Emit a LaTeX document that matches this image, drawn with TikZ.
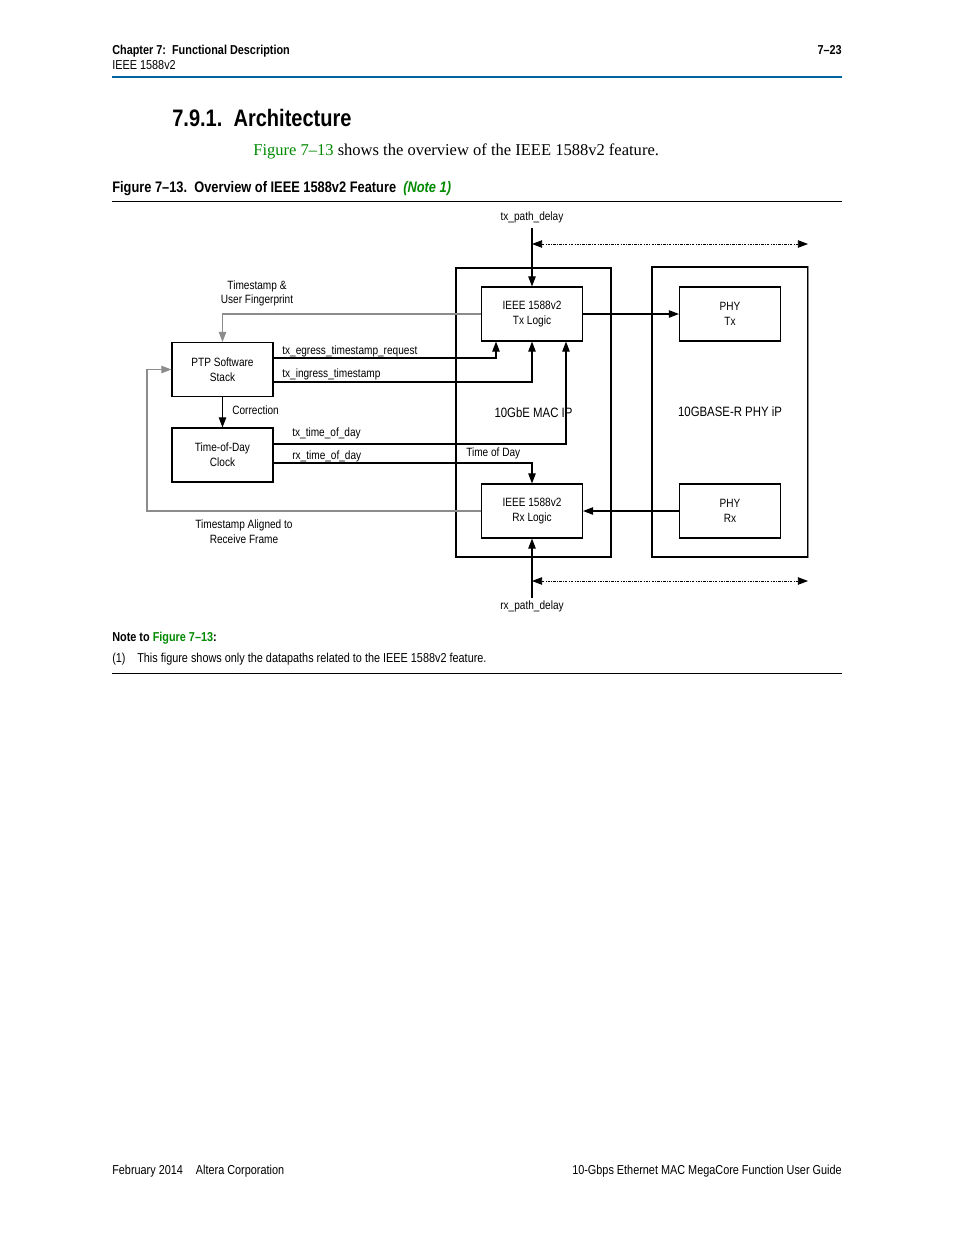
\documentclass[tikz,border=0pt]{standalone}
\usepackage{fontspec}
\setmainfont{Liberation Sans}[FakeStretch=0.84]
\newfontfamily\bodyserif{Liberation Serif}
\usetikzlibrary{arrows.meta,calc}
\definecolor{altblue}{HTML}{0066A1}
\definecolor{altgreen}{HTML}{008A00}
\definecolor{linegray}{gray}{0.55}
\newcommand{\lblfont}{\fontsize{7.7}{9.4}\selectfont}
\newcommand{\smallpage}{\fontsize{8.3}{10}\selectfont}

\tikzset{
  logicbox/.style={draw, line width=0.7pt, minimum width=101*0.6415pt,
    minimum height=54*0.6415pt, align=center, font=\lblfont, inner sep=0pt},
  ipbox/.style={draw, line width=0.7pt, minimum width=155*0.6415pt,
    minimum height=289*0.6415pt, align=center, font=\fontsize{8.7}{10}\selectfont, inner sep=0pt},
  lbl/.style={font=\lblfont, inner sep=0pt, align=center},
  pagetext/.style={inner sep=0pt, anchor=base west},
  arr/.style={line width=0.7pt, -{Triangle[length=6.5pt,width=4.8pt]}},
  grayarr/.style={arr, draw=linegray},
  dotarr/.style={line width=0.55pt, {Triangle[length=6.5pt,width=4.8pt]}-{Triangle[length=6.5pt,width=4.8pt]},
    dash pattern=on 1.6pt off 0.8pt on 0.5pt off 0.8pt},
}

\begin{document}
\begin{tikzpicture}[x=0.6415pt, y=-0.6415pt]
  \useasboundingbox[fill=white] (0,0) rectangle (954,1235);

  %% page header
  \node[pagetext, font=\bfseries\smallpage] (chap) at (112,54) {Chapter 7:\ \ Functional Description};
  \node[pagetext, font=\smallpage] (sect) at (112,69) {IEEE 1588v2};
  \node[inner sep=0pt, anchor=base east, font=\bfseries\smallpage] (pgno) at (842,54) {7–23};
  \draw[altblue, line width=1.6pt] (112,77) -- (842,77);

  \node[pagetext, font=\bfseries\fontsize{15.3}{18}\selectfont] (title) at (172,126) {7.9.1.\ \ Architecture};
  \node[pagetext, font=\bodyserif\fontsize{10.6}{12}\selectfont] (intro) at (253,155)
    {\textcolor{altgreen}{Figure 7–13} shows the overview of the IEEE 1588v2 feature.};

  \node[pagetext, font=\bfseries\fontsize{9.8}{11}\selectfont] (figcap) at (112,192)
    {Figure 7–13.\ \ Overview of IEEE 1588v2 Feature\ \ \textcolor{altgreen}{\itshape (Note 1)}};
  \draw[line width=0.6pt] (112,201) -- (842,201);

  %% IP blocks
  \node[ipbox] (mac) at (533.5,412.5) {10GbE MAC IP};
  \node[ipbox, minimum width=156*0.6415pt, minimum height=290*0.6415pt] (phy) at (730,412) {10GBASE-R PHY iP};
  \draw[linegray, line width=0.7pt] (phy.north east) -- (phy.south east);

  %% logic blocks
  \node[logicbox] (txl) at (532,314) {IEEE 1588v2\\Tx Logic};
  \node[logicbox] (rxl) at (532,511) {IEEE 1588v2\\Rx Logic};
  \node[logicbox] (phytx) at (730,314) {PHY\\Tx};
  \node[logicbox] (phyrx) at (730,511) {PHY\\Rx};
  \node[logicbox] (ptp) at (222.5,369.5) {PTP Software\\Stack};
  \node[logicbox] (tod) at (222.5,455) {Time-of-Day\\Clock};

  %% path delays
  \coordinate (txd) at (532,228);
  \coordinate (rxd) at (532,598);
  \coordinate (txdl) at (532,244);
  \coordinate (txdr) at (808,244);
  \coordinate (rxdl) at (532,581);
  \coordinate (rxdr) at (808,581);
  \draw[arr] (txd) -- (txl.north);
  \draw[arr] (rxd) -- (rxl.south);
  \draw[dotarr] (txdl) -- (txdr);
  \draw[dotarr] (rxdl) -- (rxdr);
  \node[lbl] (txdlbl) at (532,217) {tx\_path\_delay};
  \node[lbl] (rxdlbl) at (532,606) {rx\_path\_delay};

  %% data paths
  \draw[arr] (txl.east) -- (phytx.west);
  \draw[arr] (phyrx.west) -- (rxl.east);
  \draw[grayarr] (txl.west) -| (ptp.north);
  \draw[arr] (ptp.east |- 0,358) -| (txl.south -| 496,0);
  \draw[arr] (ptp.east |- 0,382) -| (txl.south);
  \draw[arr] (ptp.south) -- (tod.north);
  \draw[arr] (tod.east |- 0,444) -| (txl.south -| 566,0);
  \draw[arr] (tod.east |- 0,463) -| (rxl.north);
  \draw[grayarr] (rxl.west) -| (ptp.west -| 147,0) -- (ptp.west);

  \node[lbl] (fplbl) at (257,293.5) {Timestamp \&\\User Fingerprint};
  \node[lbl, anchor=west] (reqlbl) at (282,351) {tx\_egress\_timestamp\_request};
  \node[lbl, anchor=west] (inglbl) at (282,374) {tx\_ingress\_timestamp};
  \node[lbl, anchor=west] (corlbl) at (232,410) {Correction};
  \node[lbl, anchor=west] (txtodlbl) at (292,433) {tx\_time\_of\_day};
  \node[lbl, anchor=west] (rxtodlbl) at (292,456) {rx\_time\_of\_day};
  \node[lbl, anchor=west] (todlbl) at (466,453) {Time of Day};
  \node[lbl] (alnlbl) at (244,531.5) {Timestamp Aligned to\\Receive Frame};

  %% note
  \node[pagetext, font=\bfseries\smallpage] (note) at (112,641)
    {Note to \textcolor{altgreen}{Figure 7–13}:};
  \node[pagetext, font=\smallpage] (noten) at (112,662) {(1)};
  \node[pagetext, font=\smallpage] (notet) at (137,662)
    {This figure shows only the datapaths related to the IEEE 1588v2 feature.};
  \draw[line width=0.6pt] (112,673) -- (842,673);

  %% footer
  \node[pagetext, font=\smallpage] (foot) at (112,1174) {February 2014\quad Altera Corporation};
  \node[inner sep=0pt, anchor=base east, font=\smallpage] (guide) at (842,1174)
    {10-Gbps Ethernet MAC MegaCore Function User Guide};
\end{tikzpicture}
\end{document}
